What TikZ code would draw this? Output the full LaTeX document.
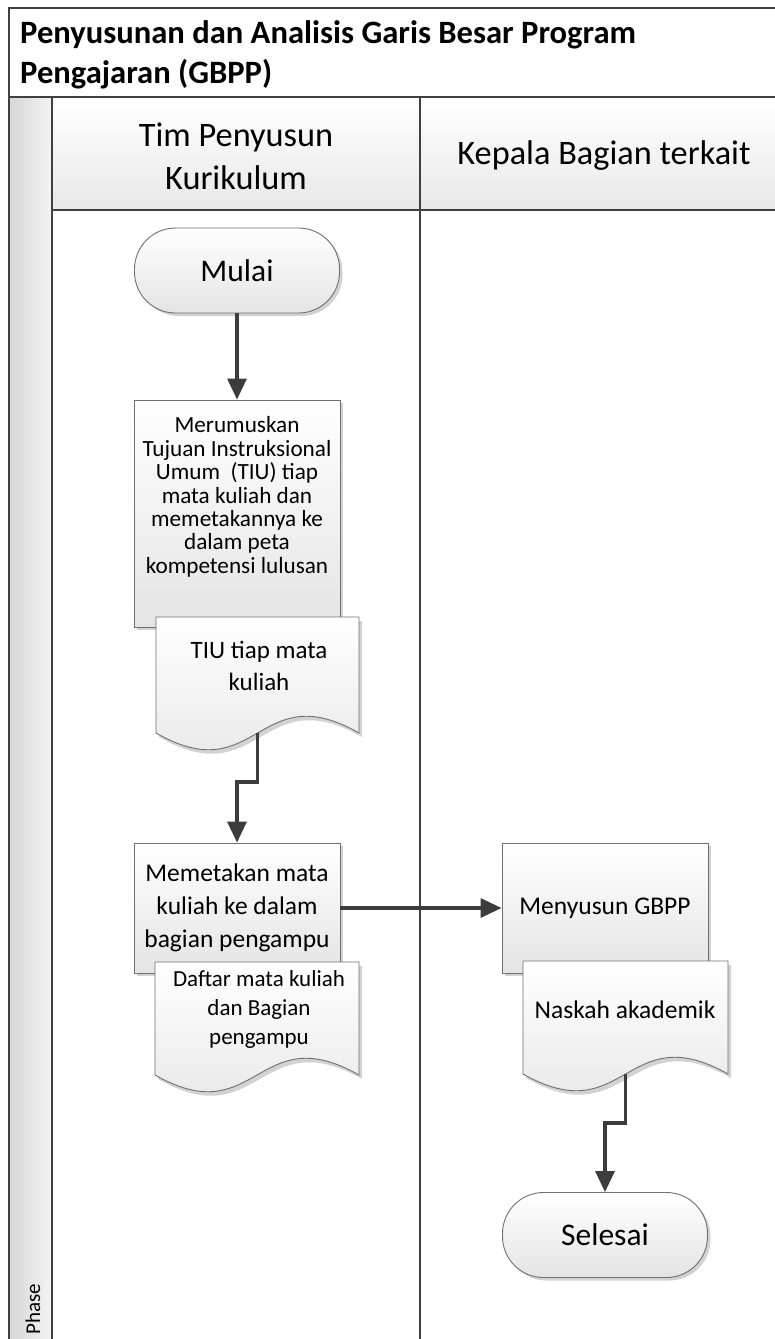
\documentclass[tikz,border=0pt]{standalone}
\usepackage{fontspec}
\setmainfont{Carlito}
\usetikzlibrary{arrows.meta,shadows}
\definecolor{framec}{HTML}{404040}
\definecolor{conncol}{HTML}{3C3C3C}
\definecolor{shapeb}{HTML}{707070}
\definecolor{shapebot}{HTML}{E4E4E4}
\definecolor{hdrbot}{HTML}{E8E8E8}
\definecolor{phaseleft}{HTML}{D6D6D6}
\definecolor{phaseright}{HTML}{F4F4F4}
\definecolor{shadowc}{HTML}{D2D2D2}
\tikzset{
  frameline/.style={draw=framec, line width=2.2pt},
  conn/.style={draw=conncol, line width=3.2pt, -{Triangle[length=21pt,width=19pt]}},
  shp/.style={draw=shapeb, line width=0.9pt, top color=white, bottom color=shapebot,
    drop shadow={shadow xshift=3pt,shadow yshift=-3pt,fill=shadowc,opacity=1}},
  procbox/.style={shp, rectangle, inner sep=0pt, minimum width=206pt, minimum height=130pt, align=center},
  term/.style={shp, rectangle, rounded corners=41pt, minimum width=205pt, minimum height=85pt, font=\fontsize{31.5}{37}\selectfont},
  txtA/.style={align=center, inner sep=0pt, font=\fontsize{23.2}{23.4}\selectfont},
  txtB/.style={align=center, inner sep=0pt, font=\fontsize{25.5}{33}\selectfont},
  txtD/.style={align=center, inner sep=0pt, font=\fontsize{25}{32}\selectfont},
  txtC/.style={align=center, inner sep=0pt, font=\fontsize{23}{29}\selectfont},
  hdr/.style={align=center, inner sep=0pt, font=\fontsize{34.3}{43}\selectfont},
}
\newcommand\drawdoc[5]{%
  \begin{scope}[shift={(3,4)}]
    \fill[shadowc] (#1,#2) -- (#3,#2) -- (#3,#4) .. controls ({(#1+#3)/2},{#4-58}) and ({(#1+#3)/2},{#4+58}) .. (#1,#4) -- cycle;
  \end{scope}
  \path[draw=shapeb, line width=0.9pt, top color=white, bottom color=shapebot]
    (#1,#2) -- (#3,#2) -- (#3,#4) .. controls ({(#1+#3)/2},{#4-58}) and ({(#1+#3)/2},{#4+58}) .. (#1,#4) -- cycle;
  \coordinate (#5) at ({(#1+#3)/2},{(#2+#4)/2});
  \coordinate (#5w) at ({(#1+#3)/2},#4);
}
\begin{document}
\begin{tikzpicture}[x=1pt,y=-1pt]
\useasboundingbox (0,0) rectangle (775,1339);
\begin{scope}
\clip (0,0) rectangle (775,1339);
% backgrounds
\fill[white] (0,0) rectangle (775,1339);
\shade[top color=white, bottom color=hdrbot] (52,97) rectangle (780,210);
\shade[left color=phaseleft, right color=phaseright] (9,97) rectangle (52,1345);
% frame lines
\draw[frameline] (9,1345) -- (9,8) -- (780,8);
\draw[frameline] (9,97) -- (780,97);
\draw[frameline] (52,210) -- (780,210);
\draw[frameline] (52,97) -- (52,1345);
\draw[frameline] (420,97) -- (420,1345);
% texts of the frame
\node[anchor=west, align=left, inner sep=0pt, font=\bfseries\fontsize{32.6}{40}\selectfont] (title) at (20,55)
  {Penyusunan dan Analisis Garis Besar Program\\Pengajaran (GBPP)};
\node[hdr] (lane1) at (236,156) {Tim Penyusun\\Kurikulum};
\node[hdr] (lane2) at (604,156) {Kepala Bagian terkait};
\node[rotate=90, inner sep=0pt, font=\fontsize{21}{25}\selectfont] (phase) at (33,1309) {Phase};
% shapes
\node[term] (mulai) at (237,270.5) {Mulai};
\node[procbox, minimum height=227pt] (b1) at (237,513.5) {};
\node[txtA] (b1t) at (237,497) {Merumuskan\\Tujuan Instruksional\\Umum~~(TIU) tiap\\mata kuliah dan\\memetakannya ke\\dalam peta\\kompetensi lulusan};
\drawdoc{156}{617}{359}{733}{d1}
\node[txtD] (d1t) at (259,666) {TIU tiap mata\\kuliah};
\node[procbox, font=\fontsize{25.5}{33}\selectfont] (b2) at (237,908) {Memetakan mata\\kuliah ke dalam\\bagian pengampu};
\drawdoc{155}{962}{359}{1075}{d2}
\node[txtC] (d2t) at (259,1009) {Daftar mata kuliah\\dan Bagian\\pengampu};
\node[procbox, font=\fontsize{25.5}{33}\selectfont] (b3) at (605,908) {Menyusun GBPP};
\drawdoc{523}{961}{728}{1074}{d3}
\node[txtB] (d3t) at (625,1010) {Naskah akademik};
\node[term] (sel) at (605,1235) {Selesai};
% connectors
\draw[conn] (mulai.south) -- (b1.north);
\draw[conn] (d1w) -- ++(0,49) -| (b2.north);
\draw[conn] (b2.east) -- (b3.west);
\draw[conn] (d3w) -- ++(0,49) -| (sel.north);
\end{scope}
\end{tikzpicture}
\end{document}
